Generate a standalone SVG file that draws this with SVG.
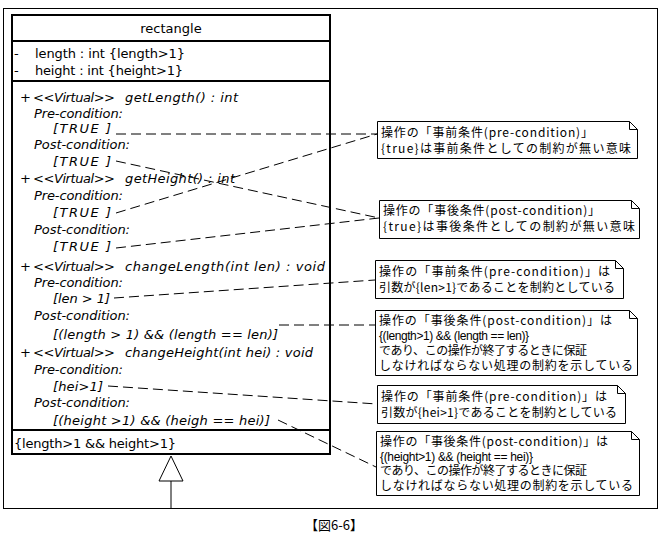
<svg xmlns="http://www.w3.org/2000/svg" width="662" height="544" viewBox="0 0 662 544">
<style>
text{font-family:"DejaVu Sans","Noto Sans CJK JP",sans-serif;font-size:13px;fill:#000}
.op{font-style:italic}
.jp{font-family:"Noto Sans CJK JP","Liberation Sans",sans-serif;font-size:12px}
.asc{font-family:"Liberation Sans",sans-serif;font-size:12px}
.cap{font-family:"Noto Sans CJK JP",sans-serif;font-size:13px}
.box{fill:#fff;stroke:#000;stroke-width:2}
.sep{stroke:#000;stroke-width:2}
.note{fill:#fff;stroke:#000;stroke-width:1}
.dash{fill:none;stroke:#000;stroke-width:1;stroke-dasharray:10 5}
</style>
<rect width="662" height="544" fill="#fff"/>
<rect x="3.5" y="8.5" width="654" height="500" fill="none" stroke="#000" stroke-width="1"/>

<g id="rectangle">
<rect class="box" x="12" y="15" width="318" height="439"/>
<line class="sep" x1="12" y1="41" x2="330" y2="41"/>
<line class="sep" x1="12" y1="81" x2="330" y2="81"/>
<line class="sep" x1="12" y1="430" x2="330" y2="430"/>
<text x="171" y="32.5" text-anchor="middle">rectangle</text>
<text x="14" y="57.5">-</text><text x="35" y="57.5" textLength="150" lengthAdjust="spacing">length : int {length&gt;1}</text>
<text x="14" y="74.5">-</text><text x="35" y="74.5" textLength="148" lengthAdjust="spacing">height : int {height&gt;1}</text>
<g class="op">
<text x="20" y="101.5">+</text><text x="33" y="101.5" textLength="82" lengthAdjust="spacing">&lt;&lt;Virtual&gt;&gt;</text><text x="125" y="101.5" textLength="113" lengthAdjust="spacing">getLength() : int</text>
<text x="34" y="117.5" textLength="89" lengthAdjust="spacing">Pre-condition:</text>
<text x="53" y="132.5" textLength="58" lengthAdjust="spacing">[TRUE ]</text>
<text x="34" y="148.5" textLength="96" lengthAdjust="spacing">Post-condition:</text>
<text x="53" y="165.5" textLength="58" lengthAdjust="spacing">[TRUE ]</text>
<text x="20" y="182.5">+</text><text x="33" y="182.5" textLength="82" lengthAdjust="spacing">&lt;&lt;Virtual&gt;&gt;</text><text x="125" y="182.5" textLength="110" lengthAdjust="spacing">getHeight() : int</text>
<text x="34" y="199.5" textLength="89" lengthAdjust="spacing">Pre-condition:</text>
<text x="53" y="216.5" textLength="58" lengthAdjust="spacing">[TRUE ]</text>
<text x="34" y="233.5" textLength="96" lengthAdjust="spacing">Post-condition:</text>
<text x="53" y="251" textLength="58" lengthAdjust="spacing">[TRUE ]</text>
<text x="20" y="270.5">+</text><text x="33" y="270.5" textLength="82" lengthAdjust="spacing">&lt;&lt;Virtual&gt;&gt;</text><text x="125" y="270.5" textLength="200" lengthAdjust="spacing">changeLength(int len) : void</text>
<text x="34" y="286.5" textLength="89" lengthAdjust="spacing">Pre-condition:</text>
<text x="53" y="302.5" textLength="57" lengthAdjust="spacing">[len &gt; 1]</text>
<text x="34" y="319.5" textLength="96" lengthAdjust="spacing">Post-condition:</text>
<text x="53" y="338.5" textLength="225" lengthAdjust="spacing">[(length &gt; 1) &amp;&amp; (length == len)]</text>
<text x="20" y="356.5">+</text><text x="33" y="356.5" textLength="82" lengthAdjust="spacing">&lt;&lt;Virtual&gt;&gt;</text><text x="125" y="356.5" textLength="188" lengthAdjust="spacing">changeHeight(int hei) : void</text>
<text x="34" y="373.5" textLength="89" lengthAdjust="spacing">Pre-condition:</text>
<text x="53" y="390.5" textLength="50" lengthAdjust="spacing">[hei&gt;1]</text>
<text x="34" y="406.5" textLength="96" lengthAdjust="spacing">Post-condition:</text>
<text x="53" y="424.5" textLength="217" lengthAdjust="spacing">[(height &gt;1) &amp;&amp; (heigh == hei)]</text>
</g>
<text x="14" y="447.5" textLength="162" lengthAdjust="spacing">{length&gt;1 &amp;&amp; height&gt;1}</text>
</g>

<g id="generalization">
<polygon points="171,456 159,481 183,481" fill="#fff" stroke="#000" stroke-width="1"/>
<line x1="171" y1="481" x2="171" y2="508" stroke="#000" stroke-width="1"/>
</g>

<g id="connectors">
<line class="dash" x1="116" y1="134" x2="377" y2="134"/>
<line class="dash" x1="116" y1="213" x2="377" y2="134"/>
<line class="dash" x1="116" y1="161" x2="379" y2="218"/>
<line class="dash" x1="116" y1="248" x2="379" y2="218"/>
<line class="dash" x1="114" y1="298" x2="375" y2="280"/>
<line class="dash" x1="279" y1="325" x2="375" y2="325"/>
<line class="dash" x1="108" y1="386" x2="377" y2="404"/>
<line class="dash" x1="278" y1="420" x2="376" y2="467"/>
</g>

<g id="note1">
<path class="note" d="M377.5,121.5 H629.5 L637.5,129.5 V158.5 H377.5 Z M629.5,121.5 V129.5 H637.5"/>
<text class="jp" x="381" y="136.5" textLength="212" lengthAdjust="spacing">操作の「事前条件(pre-condition)」</text>
<text class="jp" x="381" y="152.5" textLength="250" lengthAdjust="spacing">{true}は事前条件としての制約が無い意味</text>
</g>
<g id="note2">
<path class="note" d="M379.5,200.5 H631.5 L639.5,208.5 V238.5 H379.5 Z M631.5,200.5 V208.5 H639.5"/>
<text class="jp" x="383" y="214.5" textLength="217" lengthAdjust="spacing">操作の「事後条件(post-condition)」</text>
<text class="jp" x="383" y="231" textLength="252" lengthAdjust="spacing">{true}は事後条件としての制約が無い意味</text>
</g>
<g id="note3">
<path class="note" d="M375.5,260.5 H615.5 L623.5,268.5 V298.5 H375.5 Z M615.5,260.5 V268.5 H623.5"/>
<text class="jp" x="379" y="276" textLength="231" lengthAdjust="spacing">操作の「事前条件(pre-condition)」は</text>
<text class="jp" x="379" y="292" textLength="236" lengthAdjust="spacing">引数が{len&gt;1}であることを制約としている</text>
</g>
<g id="note4">
<path class="note" d="M375.5,310.5 H629.5 L637.5,318.5 V375.5 H375.5 Z M629.5,310.5 V318.5 H637.5"/>
<text class="jp" x="379" y="324.5" textLength="233" lengthAdjust="spacing">操作の「事後条件(post-condition)」は</text>
<text class="asc" x="379" y="339.5" textLength="150" lengthAdjust="spacing">{(length&gt;1) &amp;&amp; (length == len)}</text>
<text class="jp" x="379" y="354.5" textLength="208" lengthAdjust="spacing">であり、この操作が終了するときに保証</text>
<text class="jp" x="379" y="369.5" textLength="254" lengthAdjust="spacing">しなければならない処理の制約を示している</text>
</g>
<g id="note5">
<path class="note" d="M377.5,385.5 H617.5 L625.5,393.5 V423.5 H377.5 Z M617.5,385.5 V393.5 H625.5"/>
<text class="jp" x="381" y="401" textLength="226" lengthAdjust="spacing">操作の「事前条件(pre-condition)」は</text>
<text class="jp" x="381" y="416.5" textLength="236" lengthAdjust="spacing">引数が{hei&gt;1}であることを制約としている</text>
</g>
<g id="note6">
<path class="note" d="M376.5,431.5 H631.5 L639.5,439.5 V495.5 H376.5 Z M631.5,431.5 V439.5 H639.5"/>
<text class="jp" x="380" y="446" textLength="228" lengthAdjust="spacing">操作の「事後条件(post-condition)」は</text>
<text class="asc" x="380" y="460.5" textLength="153" lengthAdjust="spacing">{(height&gt;1) &amp;&amp; (height == hei)}</text>
<text class="jp" x="380" y="475" textLength="207" lengthAdjust="spacing">であり、この操作が終了するときに保証</text>
<text class="jp" x="380" y="489.5" textLength="253" lengthAdjust="spacing">しなければならない処理の制約を示している</text>
</g>

<text class="cap" x="334" y="530" text-anchor="middle">【図6-6】</text>
</svg>
